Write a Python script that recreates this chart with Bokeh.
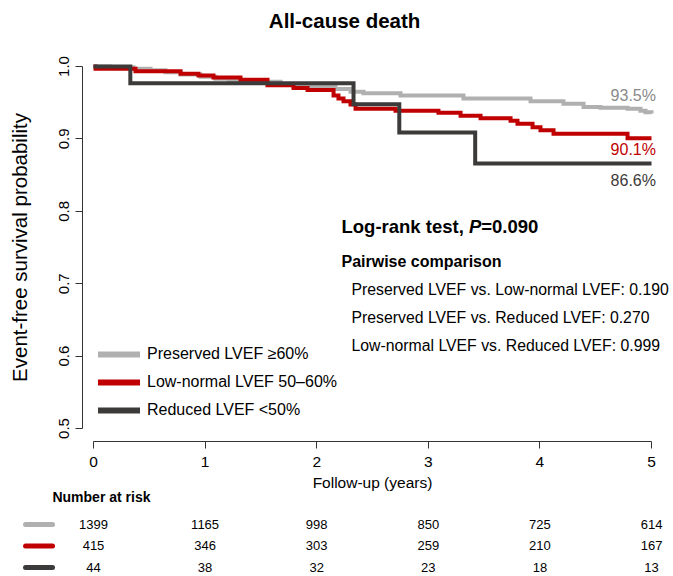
from bokeh.plotting import figure
from bokeh.models import (Range1d, FixedTicker, PrintfTickFormatter, Label,
                          Legend, LegendItem, ColumnDataSource)
from bokeh.embed import file_html
from bokeh.resources import INLINE
from bokeh.core.properties import value

# ---------------- data ----------------
years = [0, 1, 2, 3, 4, 5]
y_ticks = [0.5, 0.6, 0.7, 0.8, 0.9, 1.0]

group_names = ["Preserved LVEF \u226560%", "Low-normal LVEF 50\u201360%", "Reduced LVEF <50%"]
group_colors = ["#b0b0b0", "#c00000", "#3d3a3a"]
label_colors = ["#8a8a8a", "#c00000", "#3d3a3a"]

preserved_t = [0, 0.152, 0.358, 0.511, 0.645, 0.780, 0.959, 1.093, 1.210, 1.407, 1.676,
               1.944, 2.168, 2.303, 2.419, 2.751, 3.315, 3.916, 4.211, 4.391, 4.543,
               4.785, 4.901, 4.946, 5.0]
preserved_s = [1.0, 0.999, 0.997, 0.995, 0.992, 0.989, 0.986, 0.983, 0.981, 0.979, 0.976,
               0.972, 0.969, 0.965, 0.963, 0.960, 0.956, 0.952, 0.9485, 0.944, 0.943,
               0.9416, 0.939, 0.937, 0.935]

lownormal_t = [0, 0.018, 0.376, 0.780, 0.941, 1.075, 1.317, 1.559, 1.792, 1.918, 2.151,
               2.195, 2.240, 2.303, 2.348, 2.706, 3.091, 3.289, 3.468, 3.737, 3.799,
               3.934, 4.005, 4.122, 4.785, 5.0]
lownormal_s = [1.0, 0.997, 0.9935, 0.990, 0.9875, 0.985, 0.9816, 0.974, 0.9705, 0.9675, 0.960,
               0.956, 0.952, 0.9475, 0.9416, 0.939, 0.936, 0.932, 0.9286, 0.925, 0.921,
               0.916, 0.912, 0.907, 0.901, 0.901]

reduced_t = [0, 0.33, 2.33, 2.74, 3.42, 5.0]
reduced_s = [1.0, 0.977, 0.948, 0.909, 0.866, 0.866]

final_labels = ["93.5%", "90.1%", "86.6%"]
final_values = [0.935, 0.901, 0.866]

at_risk_preserved = [1399, 1165, 998, 850, 725, 614]
at_risk_lownormal = [415, 346, 303, 259, 210, 167]
at_risk_reduced = [44, 38, 32, 23, 18, 13]

logrank_text = ["Log-rank test, ", "P", "=0.090"]
pairwise_title = "Pairwise comparison"
pairwise_lines = ["Preserved LVEF vs. Low-normal LVEF: 0.190",
                  "Preserved LVEF vs. Reduced LVEF: 0.270",
                  "Low-normal LVEF vs. Reduced LVEF: 0.999"]

FONT = "Liberation Sans"

# ---------------- single canvas ----------------
W, H = 673, 576
p = figure(width=W, height=H, output_backend="svg", toolbar_location=None,
           x_range=Range1d(-0.8333, 5.197), y_range=Range1d(0.2956, 1.0912),
           min_border_left=0, min_border_right=0, min_border_top=0, min_border_bottom=0)
p.extra_y_ranges = {"risk": Range1d(start=2.419, end=-24.37)}
p.outline_line_color = None
p.xgrid.visible = False
p.ygrid.visible = False
p.background_fill_color = "white"
p.border_fill_color = "white"

series = [(preserved_t, preserved_s), (lownormal_t, lownormal_s), (reduced_t, reduced_s)]
for (t, s), c in zip(series, group_colors):
    p.step(t, s, mode="after", line_color=c, line_width=4, line_join="miter")

# axes (R style, detached, fixed location)
ax = p.xaxis[0]
ax.fixed_location = 0.482
ax.ticker = FixedTicker(ticks=years)
ax.bounds = (0, 5)
ax.major_tick_out = 7
ax.major_tick_in = 0
ax.minor_tick_line_color = None
ax.axis_line_color = "#333333"
ax.major_tick_line_color = "#333333"
ax.major_label_text_font = FONT
ax.major_label_text_font_size = "15.5px"
ax.major_label_text_color = "black"
ax.major_label_standoff = 8
ax.axis_label = "Follow-up (years)"
ax.axis_label_text_font = FONT
ax.axis_label_text_font_style = "normal"
ax.axis_label_text_font_size = "15.5px"
ax.axis_label_text_color = "black"
ax.axis_label_standoff = 4

ay = p.yaxis[0]
ay.fixed_location = -0.0986
ay.ticker = FixedTicker(ticks=y_ticks)
ay.formatter = PrintfTickFormatter(format="%.1f")
ay.bounds = (0.5, 1.0)
ay.major_tick_out = 7
ay.major_tick_in = 0
ay.minor_tick_line_color = None
ay.axis_line_color = "#333333"
ay.major_tick_line_color = "#333333"
ay.major_label_orientation = "vertical"
ay.major_label_text_font = FONT
ay.major_label_text_font_size = "15px"
ay.major_label_text_color = "black"
ay.major_label_standoff = 6
ay.axis_label = "Event-free survival probability"
ay.axis_label_text_font = FONT
ay.axis_label_text_font_style = "normal"
ay.axis_label_text_font_size = "20.5px"
ay.axis_label_text_color = "black"
ay.axis_label_standoff = 26

# title
p.add_layout(Label(x=2.25, y=1.0635, text="All-cause death", text_align="center",
                   text_baseline="middle", text_font=FONT, text_font_style="bold",
                   text_font_size="20.5px", text_color="black"))

# final percentages
label_offsets = [0.025, -0.0156, -0.0235]
for lab, v, off, c in zip(final_labels, final_values, label_offsets, label_colors):
    p.add_layout(Label(x=5.04, y=v + off, text=lab, text_align="right",
                       text_baseline="middle", text_font=FONT, text_font_size="16px",
                       text_color=c))

# log-rank text
lr_x = [2.222, 3.364, 3.474]
lr_styles = ["bold", "bold italic", "bold"]
for txt, x, st in zip(logrank_text, lr_x, lr_styles):
    p.add_layout(Label(x=x, y=0.779, text=txt, text_align="left", text_baseline="middle",
                       text_font=FONT, text_font_style=st, text_font_size="18.5px",
                       text_color="black"))

p.add_layout(Label(x=2.222, y=0.7307, text=pairwise_title, text_align="left",
                   text_baseline="middle", text_font=FONT, text_font_style="bold",
                   text_font_size="16px", text_color="black"))
for txt, y in zip(pairwise_lines, [0.692, 0.6533, 0.6146]):
    p.add_layout(Label(x=2.312, y=y, text=txt, text_align="left", text_baseline="middle",
                       text_font=FONT, text_font_size="15.8px", text_color="black"))

# legend (dummy renderers, off-range, for thicker swatches)
items = []
for name, c in zip(group_names, group_colors):
    r = p.line(x=[-5, -4], y=[0, 0], line_color=c, line_width=6, line_cap="round")
    items.append(LegendItem(label=name, renderers=[r]))
leg = Legend(items=items, location=(98, 156), glyph_width=42, glyph_height=20,
             label_standoff=7, spacing=8, padding=0, margin=0, label_height=20,
             border_line_alpha=0, background_fill_alpha=0,
             label_text_font=FONT, label_text_font_size="16px", label_text_color="black")
p.add_layout(leg, "center")

# ---------------- number-at-risk table ----------------
p.text(x=[-0.368], y=[-1.256], y_range_name="risk", text=["Number at risk"],
       text_align="left", text_baseline="middle", text_font=value(FONT),
       text_font_style="bold", text_font_size="14px", text_color="black")

risk_rows = [at_risk_preserved, at_risk_lownormal, at_risk_reduced]
for i, (row, c) in enumerate(zip(risk_rows, group_colors)):
    src = ColumnDataSource(dict(x=years, y=[i] * len(years), t=[str(v) for v in row]))
    p.text(x="x", y="y", text="t", source=src, y_range_name="risk",
           text_align="center", text_baseline="middle",
           text_font=value(FONT), text_font_size="13px", text_color="black")
    p.segment(x0=[-0.609], y0=[i], x1=[-0.367], y1=[i], y_range_name="risk",
              line_color=c, line_width=5, line_cap="round")

open("out.html", "w").write(file_html(p, INLINE))
